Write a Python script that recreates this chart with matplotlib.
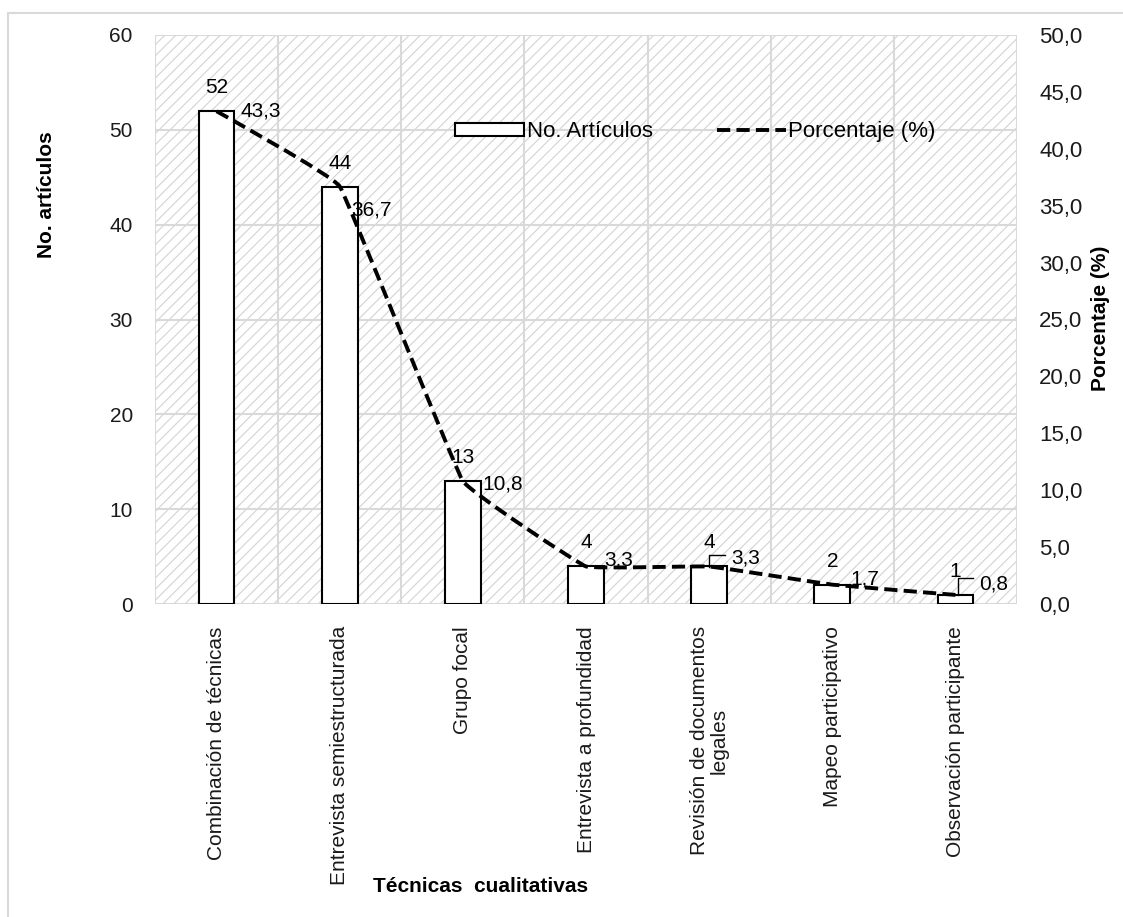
import numpy as np
import matplotlib
matplotlib.use('Agg')
import matplotlib.pyplot as plt
from matplotlib.path import Path
from matplotlib.patches import PathPatch, Rectangle
from matplotlib.lines import Line2D
from matplotlib.ticker import FuncFormatter

plt.rcParams['font.family'] = ['Liberation Sans', 'DejaVu Sans']
plt.rcParams['hatch.linewidth'] = 0.8

categories = ['Combinación de técnicas', 'Entrevista semiestructurada', 'Grupo focal',
              'Entrevista a profundidad', 'Revisión de documentos\nlegales',
              'Mapeo participativo', 'Observación participante']
n_articulos = [52, 44, 13, 4, 4, 2, 1]
porcentaje = [43.3, 36.7, 10.8, 3.3, 3.3, 1.7, 0.8]

grid_col = '#d9d9d9'
dash = (0, (3.4, 1.6))
fs = 15

fig = plt.figure(figsize=(11.23, 9.17), dpi=100)
ax = fig.add_axes([155/1123, 1 - 604/917, 862/1123, 569/917])
ax2 = ax.twinx()

x = np.arange(len(categories))

# hatched background
ax.set_facecolor('white')
ax.add_patch(Rectangle((0, 0), 1, 1, transform=ax.transAxes, facecolor='white',
                       edgecolor='#d3d3d3', hatch='///', lw=0, zorder=0))

ax.bar(x, n_articulos, width=0.29, color='white', edgecolor='black', lw=1.5, zorder=3)
ax.set_xlim(-0.5, len(categories) - 0.5)
ax.set_ylim(0, 60)
ax.set_yticks(range(0, 61, 10))
ax2.set_ylim(0, 50)
ax2.set_yticks(np.arange(0, 50.1, 5))
ax2.yaxis.set_major_formatter(FuncFormatter(lambda v, p: f'{v:.1f}'.replace('.', ',')))

# grid
for yv in range(0, 61, 10):
    ax.axhline(yv, color=grid_col, lw=1.5, zorder=1)
for xv in np.arange(-0.5, len(categories), 1.0):
    ax.axvline(xv, color=grid_col, lw=1.5, zorder=1)

for a in (ax, ax2):
    for s in a.spines.values():
        s.set_visible(False)
    a.tick_params(length=0, labelsize=fs, colors='#1a1a1a')
ax.tick_params(axis='y', pad=16)
ax2.tick_params(axis='y', pad=16, labelsize=16)

ax.set_xticks(x)
ax.set_xticklabels(categories, rotation=90, va='top', ha='center', fontsize=fs,
                   linespacing=1.0)
ax.tick_params(axis='x', pad=16)

# lightly smoothed percentage line
pts = np.column_stack([x, porcentaje])
verts = [tuple(pts[0])]
codes = [Path.MOVETO]
k = 0.03
for i in range(len(pts) - 1):
    p0 = pts[max(i - 1, 0)]
    p1 = pts[i]
    p2 = pts[i + 1]
    p3 = pts[min(i + 2, len(pts) - 1)]
    c1 = p1 + (p2 - p0) * k
    c2 = p2 - (p3 - p1) * k
    verts += [tuple(c1), tuple(c2), tuple(p2)]
    codes += [Path.CURVE4] * 3
ax2.add_patch(PathPatch(Path(verts, codes), fill=False, edgecolor='black', lw=2.8,
                        linestyle=dash, zorder=4))

# labels
for xi, v in zip(x, n_articulos):
    ax.annotate(str(v), (xi, v), xytext=(0, 10), textcoords='offset points',
                ha='center', va='bottom', fontsize=fs, zorder=5)
pct_off = [(17, 0), (8, -17), (14, -2), (13, 5), (16, 6), (13, 4), (17, 8)]
for xi, v, (dx, dy) in zip(x, porcentaje, pct_off):
    ax2.annotate(f'{v:.1f}'.replace('.', ','), (xi, v), xytext=(dx, dy),
                 textcoords='offset points', ha='left', va='center', fontsize=fs, zorder=5)

# leader lines for small labels
ax.plot([4, 4, 4.13], [3.9, 5.2, 5.2], color='black', lw=1, zorder=5)
ax.plot([6.02, 6.02, 6.14], [1.0, 2.75, 2.75], color='black', lw=1, zorder=5)

fig.text(47/1123, 1 - 195/917, 'No. artículos', fontsize=fs, fontweight='bold',
         rotation=90, ha='center', va='center')
fig.text(1101/1123, 1 - 318/917, 'Porcentaje (%)', fontsize=fs, fontweight='bold',
         rotation=90, ha='center', va='center')
fig.text(481/1123, 1 - 887/917, 'Técnicas  cualitativas', fontsize=fs,
         fontweight='bold', ha='center', va='center')

handles = [Rectangle((0, 0), 1, 1, facecolor='white', edgecolor='black', lw=1.5),
           Line2D([0], [0], color='black', lw=2.8, linestyle=dash)]
ax2.legend(handles, ['No. Artículos', 'Porcentaje (%)'], loc='center',
           bbox_to_anchor=(0.627, 0.83), ncol=2, frameon=False, fontsize=16,
           handlelength=3.1, handleheight=0.55, handletextpad=0.1, columnspacing=2.9)

# outer chart border (right and bottom edges fall outside the image)
fig.add_artist(Rectangle((8/1123, -10/917), 1130/1123, 914/917, transform=fig.transFigure,
                         fill=False, edgecolor='#d9d9d9', lw=1.5))

fig.savefig('out.png', dpi=100)
